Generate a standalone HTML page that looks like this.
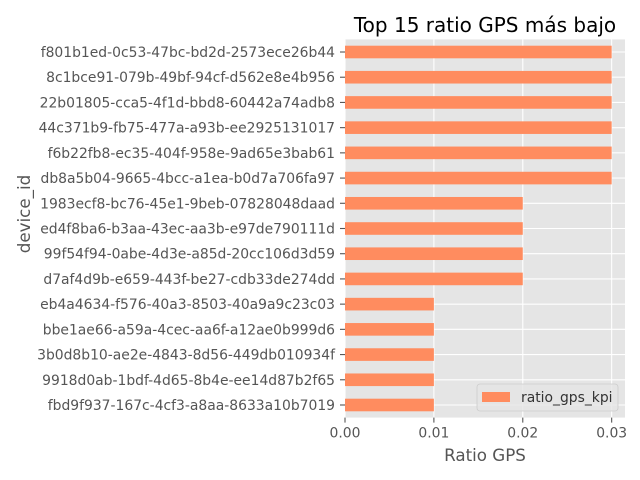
<!DOCTYPE html>
<html><head><meta charset="utf-8"><style>
body{margin:0;background:#fff}
svg{display:block;font-family:"DejaVu Sans","Liberation Sans",sans-serif}
</style></head><body>
<svg id="c" width="640" height="480"></svg>
<script>
const categories=["f801b1ed-0c53-47bc-bd2d-2573ece26b44","8c1bce91-079b-49bf-94cf-d562e8e4b956","22b01805-cca5-4f1d-bbd8-60442a74adb8","44c371b9-fb75-477a-a93b-ee2925131017","f6b22fb8-ec35-404f-958e-9ad65e3bab61","db8a5b04-9665-4bcc-a1ea-b0d7a706fa97","1983ecf8-bc76-45e1-9beb-07828048daad","ed4f8ba6-b3aa-43ec-aa3b-e97de790111d","99f54f94-0abe-4d3e-a85d-20cc106d3d59","d7af4d9b-e659-443f-be27-cdb33de274dd","eb4a4634-f576-40a3-8503-40a9a9c23c03","bbe1ae66-a59a-4cec-aa6f-a12ae0b999d6","3b0d8b10-ae2e-4843-8d56-449db010934f","9918d0ab-1bdf-4d65-8b4e-ee14d87b2f65","fbd9f937-167c-4cf3-a8aa-8633a10b7019"];
const values=[0.03,0.03,0.03,0.03,0.03,0.03,0.02,0.02,0.02,0.02,0.01,0.01,0.01,0.01,0.01];
const xTicks=[0,0.01,0.02,0.03];
const xTickLabels=["0.00","0.01","0.02","0.03"];
const NS="http://www.w3.org/2000/svg";
const svg=document.getElementById('c');
const L=345,R=625,T=39.4,B=417.6,xMax=Math.max(...values)*1.05;
const n=categories.length,step=(B-T)/n;
const xs=v=>L+v/xMax*(R-L);
const yc=i=>T+step*(i+0.5);
function el(t,a,p){const e=document.createElementNS(NS,t);for(const k in a)e.setAttribute(k,a[k]);(p||svg).appendChild(e);return e;}
const bg=el('rect',{x:L,y:T,width:R-L,height:B-T,fill:'#e5e5e5'});


xTicks.forEach((t,i)=>{
  const g=el('line',{x1:xs(t),x2:xs(t),y1:T,y2:B,stroke:'#fff','stroke-width':1.1});
  
  
  el('line',{x1:xs(t),x2:xs(t),y1:B,y2:B+5,stroke:'#555','stroke-width':1.1});
  const tx=el('text',{x:xs(t),y:B+20,'text-anchor':'middle','font-size':13.9,fill:'#555'});
  tx.textContent=xTickLabels[i];
  
  
});
categories.forEach((c,i)=>{
  const y=yc(i);
  const g=el('line',{x1:L,x2:R,y1:y,y2:y,stroke:'#fff','stroke-width':1.1});
  
  
});
categories.forEach((c,i)=>{
  const y=yc(i);
  const b=el('rect',{x:L,y:y-step/4,width:xs(values[i])-L,height:step/2,fill:'#ff8c5f'});
  
  
  el('line',{x1:L-5,x2:L,y1:y,y2:y,stroke:'#555','stroke-width':1.1});
  const tx=el('text',{x:L-10,y:y+5,'text-anchor':'end','font-size':13.9,fill:'#555'});
  tx.textContent=c;
  
  
});
const title=el('text',{x:485,y:32,'text-anchor':'middle','font-size':20,fill:'#000'});
title.textContent='Top 15 ratio GPS más bajo';


const xl=el('text',{x:485,y:461,'text-anchor':'middle','font-size':16.7,fill:'#555'});
xl.textContent='Ratio GPS';


const yl=el('text',{x:0,y:0,'text-anchor':'middle','font-size':16.7,fill:'#555',transform:'translate(30,214) rotate(-90)'});
yl.textContent='device_id';


const lg=el('g',{});


el('rect',{x:477,y:384,width:141,height:27,rx:3,fill:'#e5e5e5',stroke:'#ccc','stroke-width':0.8,'fill-opacity':0.8},lg);
const lp=el('rect',{x:482,y:392,width:28,height:10,fill:'#ff8c5f'},lg);


const lt=el('text',{x:521,y:402,'font-size':13.9,fill:'#333'},lg);
lt.textContent='ratio_gps_kpi';


</script>
</body></html>
